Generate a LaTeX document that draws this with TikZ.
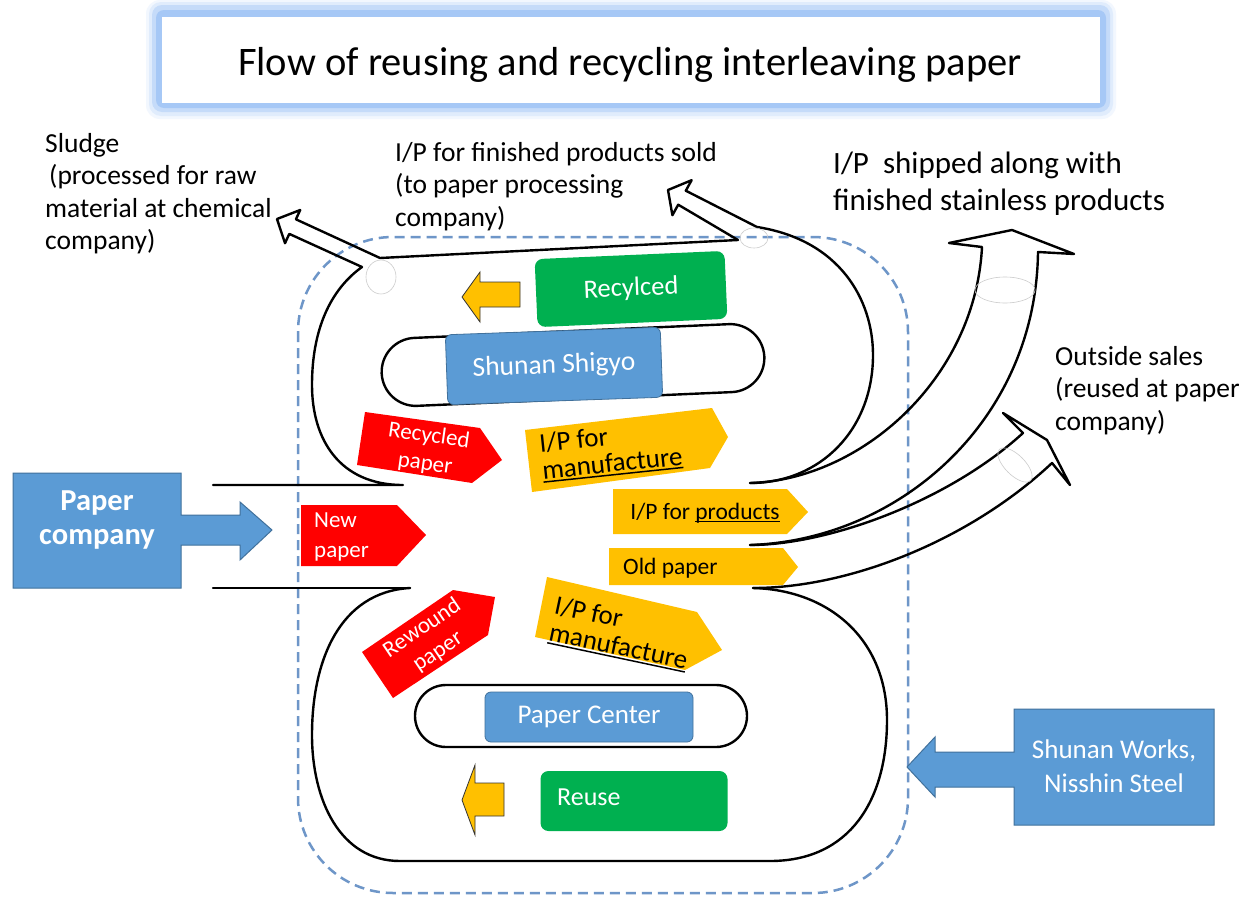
\documentclass[tikz,border=0pt]{standalone}
\usepackage{fontspec}
\setmainfont{Carlito}
\definecolor{oblue}{RGB}{91,155,213}
\definecolor{oblueb}{RGB}{65,113,156}
\definecolor{ogreen}{RGB}{0,176,80}
\definecolor{ored}{RGB}{255,0,0}
\definecolor{oyellow}{RGB}{255,192,0}
\definecolor{dashc}{RGB}{110,150,200}
\definecolor{glowc}{RGB}{166,200,246}
\newcommand{\myul}[1]{\setbox0=\hbox{#1}\rlap{\rule[-0.13em]{\wd0}{0.055em}}\box0}
\tikzset{
  band/.style={line width=2.4pt, black, line cap=round, line join=round},
  faint/.style={gray!40, line width=0.6pt},
  bluefill/.style={fill=oblue, draw=oblueb, line width=1pt},
  bluebox/.style={fill=oblue, draw=oblueb, line width=0.8pt, rounded corners=6pt, text=white, inner sep=0pt, font=\fontsize{27.5}{31}\selectfont},
  greenbox/.style={fill=ogreen, rounded corners=8pt, text=white, inner sep=0pt, font=\fontsize{26.5}{31}\selectfont},
  stadium/.style={draw, line width=2.4pt, inner sep=0pt},
  yarrow/.style={fill=oyellow, draw=black!80, line width=0.8pt, line join=miter},
  lbl/.style={inner sep=0pt, anchor=north west, align=left, font=\fontsize{27.5}{32.5}\selectfont},
  redtxt/.style={inner sep=0pt, text=white, font=\fontsize{23}{28}\selectfont},
  blacktxt/.style={inner sep=0pt, text=black},
}
\begin{document}
\begin{tikzpicture}[x=1pt,y=-1pt]
\useasboundingbox (0,0) rectangle (1243,897);
\fill[white] (0,0) rectangle (1243,897);

% ---- title ----
\fill[glowc!15, rounded corners=14pt] (146,0) rectangle (1116,119);
\fill[glowc!35, rounded corners=12pt] (149,2) rectangle (1113,116);
\fill[glowc!65, rounded corners=10pt] (152,5) rectangle (1110,112);
\fill[glowc, rounded corners=8pt] (156,10) rectangle (1106,108);
\fill[white] (162,17) rectangle (1100,103);
\node[inner sep=0pt, anchor=base, font=\fontsize{40.5}{48}\selectfont] (title) at (630,75) {Flow of reusing and recycling interleaving paper};

% ---- dashed boundary ----
\draw[dashc, line width=2.5pt, dash pattern=on 10pt off 6pt, rounded corners=95pt] (298,237) rectangle (908,893);

% ---- coordinates ----
\coordinate (slB1) at (380,258); \coordinate (slB2) at (362,267);
\coordinate (tpB1) at (757,227); \coordinate (tpB2) at (738,240);
\coordinate (upEnd) at (750,483); \coordinate (upIn) at (403,485);
\coordinate (midEnd) at (750,545);
\coordinate (loEnd) at (753,588); \coordinate (loIn) at (410,588);
\coordinate (shL) at (982,247); \coordinate (shR) at (1038,252);
\coordinate (osL) at (1023,433); \coordinate (osR) at (1052,463);

% ---- upper loop with sludge and finished-products arrows ----
\draw[band] (213,485) -- (upIn) .. controls (340,485) and (312,440) .. (312,385)
  .. controls (312,330) and (330,290) .. (slB2)
  -- (289.3,233.9) -- (285.0,243.2) -- (277,219) -- (300.2,210.0) -- (295.9,219.3) -- (slB1)
  -- (tpB2) -- (678.2,204.7) -- (672.4,215.2) -- (668,190) -- (691.6,180.2) -- (685.8,190.7) -- (tpB1)
  .. controls (840,240) and (873,300) .. (873,355)
  .. controls (873,430) and (820,483) .. (upEnd);

% ---- lower loop ----
\draw[band] (213,588) -- (loIn);
\draw[band] (loIn) .. controls (340,592) and (312,660) .. (312,735)
  .. controls (312,800) and (340,861) .. (400,861) -- (770,861)
  .. controls (850,861) and (887,800) .. (887,720)
  .. controls (887,640) and (830,590) .. (loEnd);

% ---- shipped band ----
\draw[band] (upEnd) .. controls (860,480) and (975,380) .. (shL)
  -- (949,243) -- (1012,230) -- (1074,254) -- (shR)
  .. controls (1036,420) and (900,540) .. (midEnd);

% ---- outside sales band ----
\draw[band] (midEnd) .. controls (830,545) and (950,500) .. (osL)
  -- (1003,413) -- (1047,440) -- (1070,485) -- (osR)
  .. controls (970,540) and (850,588) .. (loEnd);

% ---- faint ellipses ----
\draw[faint] (381,277) ellipse [x radius=15, y radius=17];
\draw[faint] (754,238) ellipse [x radius=14, y radius=10];
\draw[faint] (1005,290) ellipse [x radius=30, y radius=13];
\draw[faint, rotate around={-45:(1015,465)}] (1015,465) ellipse [x radius=22, y radius=10];

% ---- stadiums ----
\node[stadium, rounded corners=34pt, minimum width=383pt, minimum height=68pt, rotate=2.5] (stadU) at (573,365) {};
\node[stadium, rounded corners=31pt, minimum width=332pt, minimum height=62pt] (stadL) at (581,716) {};

% ---- blue boxes ----
\node[bluebox, minimum width=215pt, minimum height=70pt, rotate=2] (shigyo) at (554,366) {Shunan Shigyo};
\node[bluebox, font=\fontsize{27}{31}\selectfont, minimum width=208pt, minimum height=50pt] (pcenter) at (589,717) {Paper Center};

% ---- green boxes ----
\node[greenbox, minimum width=190pt, minimum height=68pt, rotate=2.5] (recyc) at (631,289) {Recylced};
\node[greenbox, minimum width=187pt, minimum height=60pt] (reuse) at (634,801) {};
\node[inner sep=0pt, anchor=base west, text=white, font=\fontsize{26}{31}\selectfont] (reuseT) at (557,805) {Reuse};

% ---- small yellow arrows ----
\draw[yarrow] (520,282) -- (480,282) -- (480,272) -- (462,297) -- (480,322) -- (480,307) -- (520,307) -- cycle;
\draw[yarrow] (504,783) -- (475,783) -- (475,765) -- (462,800) -- (475,835) -- (475,816) -- (504,816) -- cycle;

% ---- red tags ----
\fill[ored] (365,412) -- (480,428) -- (502,460) -- (472,483) -- (357,465) -- cycle;
\node[redtxt, rotate=-8, align=center] (recpT) at (427,450) {Recycled\\paper};
\fill[ored] (301,505) -- (397,505) -- (426,535) -- (397,566) -- (301,566) -- cycle;
\node[redtxt, anchor=north west, align=left, font=\fontsize{23}{30}\selectfont] (newT) at (314,513) {New\\paper};
\fill[ored] (362,652) -- (453,590) -- (495,597) -- (488,635) -- (393,698) -- cycle;
\node[redtxt, rotate=34, align=center] (rewT) at (430,640) {Rewound\\paper};

% ---- yellow tags ----
\fill[oyellow] (525,430) -- (712,408) -- (728,437) -- (710,468) -- (532,492) -- cycle;
\node[blacktxt, rotate=6, align=left, font=\fontsize{27}{27}\selectfont] (manU) at (611,451) {I/P for\\\myul{manufacture}};
\fill[oyellow] (613,489) -- (787,489) -- (808,512) -- (787,534) -- (613,534) -- cycle;
\node[blacktxt, anchor=base, font=\fontsize{23.5}{28}\selectfont] (prodT) at (705,519) {I/P for \myul{products}};
\fill[oyellow] (609,548) -- (783,548) -- (798,567) -- (783,585) -- (609,585) -- cycle;
\node[blacktxt, anchor=base west, font=\fontsize{23.5}{28}\selectfont] (oldT) at (623,574) {Old paper};
\fill[oyellow] (547,577) -- (697,612) -- (722,650) -- (685,670) -- (535,637) -- cycle;
\node[blacktxt, rotate=-12, align=left, font=\fontsize{27}{27}\selectfont] (manL) at (621,634) {I/P for\\\myul{manufacture}};

% ---- external block arrows ----
\draw[bluefill] (13,473) -- (181,473) -- (181,515) -- (240,515) -- (240,502) -- (272,530) -- (240,560) -- (240,545) -- (181,545) -- (181,588) -- (13,588) -- cycle;
\node[inner sep=0pt, text=white, align=center, font=\bfseries\fontsize{30.5}{34}\selectfont] (pcT) at (97,520) {Paper\\company};
\draw[bluefill] (1214,709) -- (1014,709) -- (1014,752) -- (935,752) -- (935,737) -- (907,767) -- (935,797) -- (935,787) -- (1014,787) -- (1014,825) -- (1214,825) -- cycle;
\node[inner sep=0pt, text=white, align=center, font=\fontsize{27}{34}\selectfont] (swT) at (1114,766) {Shunan Works,\\Nisshin Steel};

% ---- outside labels ----
\node[lbl] (sludge) at (45,133) {Sludge\\\hspace{4pt}(processed for raw\\material at chemical\\company)};
\node[lbl] (ipfin) at (395,142) {I/P for finished products sold\\(to paper processing\\company)};
\node[lbl, font=\fontsize{31}{37}\selectfont] (ipship) at (833,152) {I/P~~shipped along with\\finished stainless products};
\node[lbl] (outside) at (1055,346) {Outside sales\\(reused at paper\\company)};
\end{tikzpicture}
\end{document}
